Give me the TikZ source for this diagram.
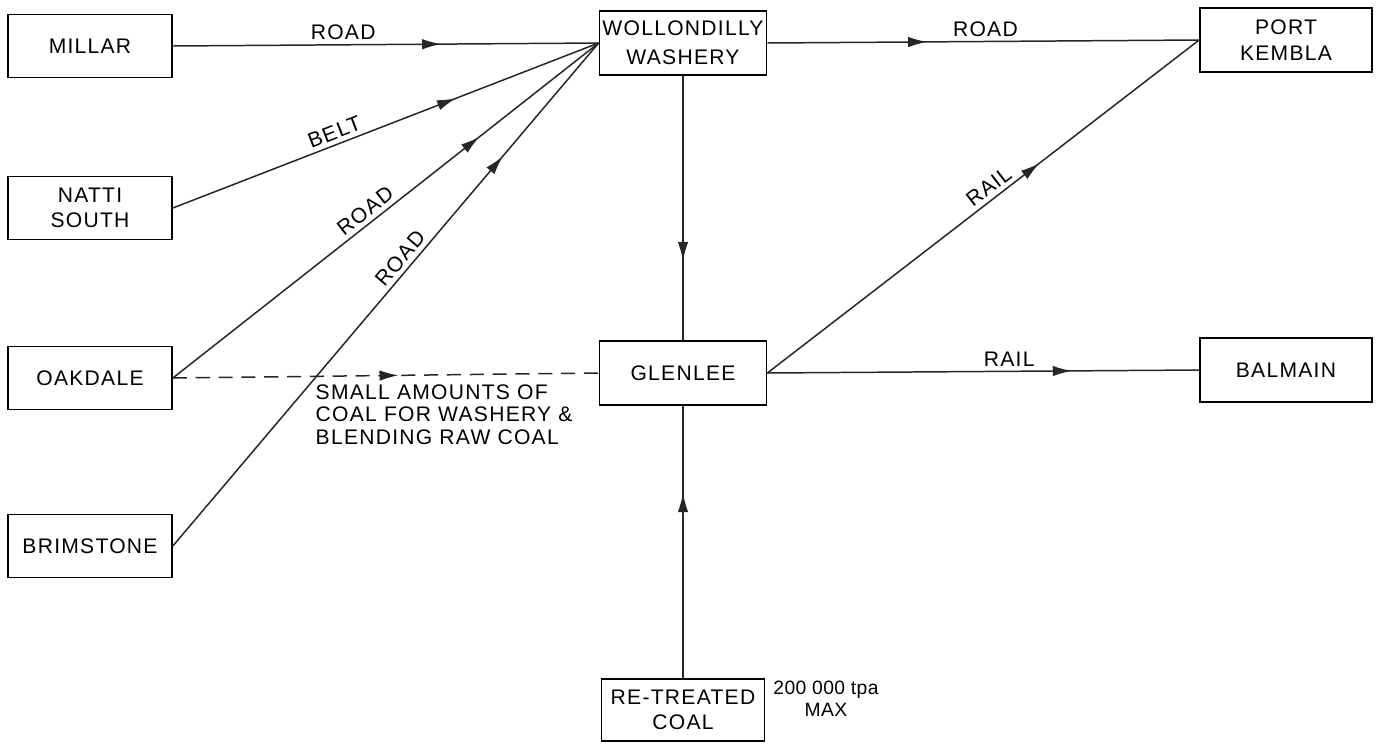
\documentclass[tikz,border=0pt]{standalone}
\usepackage{fontspec}
\setmainfont{Liberation Sans}[LetterSpace=6]
\usetikzlibrary{arrows.meta,decorations.markings}
\tikzset{
  site/.style ={rectangle, draw=black, line width=1pt, align=center,
                inner xsep=1pt, font=\fontsize{12}{14.5}\selectfont,
                minimum width=3.28cm, minimum height=1.26cm},
  hub/.style  ={site, minimum width=3.34cm, minimum height=1.28cm},
  port/.style ={site, minimum width=3.44cm, minimum height=1.28cm},
  lbl/.style  ={font=\fontsize{12}{12.7}\selectfont, inner sep=2.5pt},
  flow/.style ={line width=0.85pt, draw=black!85, postaction={decorate},
                decoration={markings, mark=at position #1 with
                {\arrow{Latex[length=3.8mm,width=2.1mm]}}}},
}

\begin{document}
\begin{tikzpicture}[x=0.02cm, y=-0.02cm]
  \useasboundingbox (0,0) rectangle (1380,748);

  % collieries
  \node[site] (millar) at (90,46) {MILLAR};
  \node[site] (natti) at (90,208) {NATTI\\SOUTH};
  \node[site] (oakdale) at (90,378) {OAKDALE};
  \node[site] (brimstone) at (90,546) {BRIMSTONE};

  % washery, Glenlee and re-treated coal
  \node[hub] (washery) at (683,43) {WOLLONDILLY\\[2pt]WASHERY};
  \node[hub] (glenlee) at (683,373) {GLENLEE};
  \node[hub, minimum width=3.26cm, minimum height=1.24cm]
       (retreat) at (683,710) {RE-TREATED\\COAL};

  % destinations
  \node[port] (kembla) at (1286,40) {PORT\\KEMBLA};
  \node[port] (balmain) at (1286,370) {BALMAIN};

  % notes
  \node[lbl, anchor=north west, align=left] (note) at (311,380)
       {SMALL AMOUNTS OF\\COAL FOR WASHERY \&\\BLENDING RAW COAL};
  \node[lbl, align=center, font=\fontsize{11}{12.5}\selectfont\addfontfeature{LetterSpace=2}]
       (tonnage) at (826,699) {200 000 tpa\\MAX};

  % raw coal into the washery
  \draw[flow=0.63] (millar.east) -- node[lbl, pos=0.4, above] {ROAD} (washery.west);
  \draw[flow=0.665] (natti.east) -- node[lbl, pos=0.39, sloped, above] {BELT} (washery.west);
  \draw[flow=0.72] (oakdale.east) -- node[lbl, pos=0.47, sloped, above] {ROAD} (washery.west);
  \draw[flow=0.775] (brimstone.east) -- node[lbl, pos=0.556, sloped, above] {ROAD} (washery.west);
  \draw[flow=0.53, dash pattern=on 8pt off 5pt] (oakdale.east) -- (glenlee.west);

  % into Glenlee
  \draw[flow=0.70] (washery) -- (glenlee);
  \draw[flow=0.68] (retreat) -- (glenlee);

  % out to the ports
  \draw[flow=0.37] (washery.east) -- node[lbl, pos=0.505, above] {ROAD} (kembla.west);
  \draw[flow=0.63] (glenlee.east) -- node[lbl, pos=0.53, sloped, above] {RAIL} (kembla.west);
  \draw[flow=0.705] (glenlee.east) -- node[lbl, pos=0.56, above] {RAIL} (balmain.west);
\end{tikzpicture}
\end{document}
